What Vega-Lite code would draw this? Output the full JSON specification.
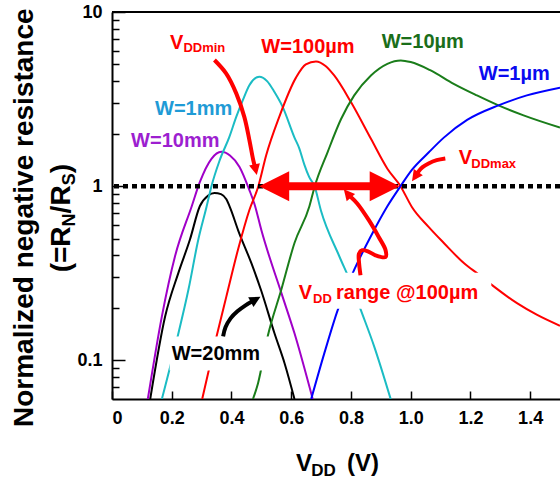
{
 "$schema": "https://vega.github.io/schema/vega-lite/v6.json",
 "width": 448, "height": 387,
 "autosize": {"type": "none"},
 "padding": {"left": 112, "top": 12, "right": 0, "bottom": 81},
 "background": "white",
 "config": {
  "view": {"stroke": null},
  "font": "Liberation Sans",
  "axis": {"grid": false, "domainColor": "black", "domainWidth": 2, "tickColor": "black", "tickWidth": 1.5, "labelFont": "Liberation Sans", "labelFontWeight": "bold", "labelFontSize": 18, "labelColor": "black", "title": null}
 },
 "resolve": {"axis": {"y": "independent"}},
 "layer": [
  {
   "data": {"values": [
    {"s":"W=20mm","x":0.128,"y":0.06},{"s":"W=20mm","x":0.178,"y":0.179},{"s":"W=20mm","x":0.222,"y":0.317},{"s":"W=20mm","x":0.261,"y":0.494},{"s":"W=20mm","x":0.294,"y":0.767},{"s":"W=20mm","x":0.322,"y":0.884},{"s":"W=20mm","x":0.343,"y":0.915},{"s":"W=20mm","x":0.365,"y":0.9},{"s":"W=20mm","x":0.383,"y":0.84},{"s":"W=20mm","x":0.397,"y":0.74},{"s":"W=20mm","x":0.422,"y":0.56},{"s":"W=20mm","x":0.467,"y":0.36},{"s":"W=20mm","x":0.5,"y":0.25},{"s":"W=20mm","x":0.544,"y":0.143},{"s":"W=20mm","x":0.578,"y":0.096},{"s":"W=20mm","x":0.611,"y":0.06},
    {"s":"W=10mm","x":0.12,"y":0.06},{"s":"W=10mm","x":0.167,"y":0.179},{"s":"W=10mm","x":0.211,"y":0.396},{"s":"W=10mm","x":0.267,"y":0.767},{"s":"W=10mm","x":0.294,"y":1.054},{"s":"W=10mm","x":0.333,"y":1.436},{"s":"W=10mm","x":0.366,"y":1.575},{"s":"W=10mm","x":0.395,"y":1.5},{"s":"W=10mm","x":0.427,"y":1.29},{"s":"W=10mm","x":0.46,"y":0.95},{"s":"W=10mm","x":0.478,"y":0.78},{"s":"W=10mm","x":0.5,"y":0.56},{"s":"W=10mm","x":0.567,"y":0.244},{"s":"W=10mm","x":0.611,"y":0.143},{"s":"W=10mm","x":0.672,"y":0.06},
    {"s":"W=1mm","x":0.167,"y":0.06},{"s":"W=1mm","x":0.217,"y":0.131},{"s":"W=1mm","x":0.256,"y":0.255},{"s":"W=1mm","x":0.289,"y":0.494},{"s":"W=1mm","x":0.317,"y":0.767},{"s":"W=1mm","x":0.333,"y":1.0},{"s":"W=1mm","x":0.36,"y":1.4},{"s":"W=1mm","x":0.393,"y":1.92},{"s":"W=1mm","x":0.416,"y":2.5},{"s":"W=1mm","x":0.438,"y":3.12},{"s":"W=1mm","x":0.46,"y":3.8},{"s":"W=1mm","x":0.493,"y":4.25},{"s":"W=1mm","x":0.52,"y":4.0},{"s":"W=1mm","x":0.544,"y":3.47},{"s":"W=1mm","x":0.571,"y":2.86},{"s":"W=1mm","x":0.611,"y":1.9},{"s":"W=1mm","x":0.627,"y":1.65},{"s":"W=1mm","x":0.644,"y":1.33},{"s":"W=1mm","x":0.66,"y":1.13},{"s":"W=1mm","x":0.678,"y":1.0},{"s":"W=1mm","x":0.7,"y":0.72},{"s":"W=1mm","x":0.761,"y":0.396},{"s":"W=1mm","x":0.8,"y":0.278},{"s":"W=1mm","x":0.833,"y":0.195},{"s":"W=1mm","x":0.878,"y":0.12},{"s":"W=1mm","x":0.933,"y":0.06},
    {"s":"W=100µm","x":0.302,"y":0.06},{"s":"W=100µm","x":0.35,"y":0.137},{"s":"W=100µm","x":0.383,"y":0.233},{"s":"W=100µm","x":0.422,"y":0.433},{"s":"W=100µm","x":0.46,"y":0.73},{"s":"W=100µm","x":0.49,"y":1.0},{"s":"W=100µm","x":0.516,"y":1.5},{"s":"W=100µm","x":0.56,"y":2.5},{"s":"W=100µm","x":0.616,"y":4.2},{"s":"W=100µm","x":0.649,"y":5.0},{"s":"W=100µm","x":0.683,"y":5.2},{"s":"W=100µm","x":0.715,"y":4.9},{"s":"W=100µm","x":0.744,"y":4.32},{"s":"W=100µm","x":0.8,"y":3.04},{"s":"W=100µm","x":0.867,"y":1.87},{"s":"W=100µm","x":0.922,"y":1.26},{"s":"W=100µm","x":0.966,"y":1.0},{"s":"W=100µm","x":1.004,"y":0.76},{"s":"W=100µm","x":1.06,"y":0.584},{"s":"W=100µm","x":1.111,"y":0.472},{"s":"W=100µm","x":1.178,"y":0.362},{"s":"W=100µm","x":1.228,"y":0.311},{"s":"W=100µm","x":1.278,"y":0.266},{"s":"W=100µm","x":1.356,"y":0.213},{"s":"W=100µm","x":1.422,"y":0.183},{"s":"W=100µm","x":1.5,"y":0.158},
    {"s":"W=10µm","x":0.472,"y":0.06},{"s":"W=10µm","x":0.489,"y":0.074},{"s":"W=10µm","x":0.522,"y":0.139},{"s":"W=10µm","x":0.567,"y":0.255},{"s":"W=10µm","x":0.611,"y":0.472},{"s":"W=10µm","x":0.661,"y":0.767},{"s":"W=10µm","x":0.678,"y":0.987},{"s":"W=10µm","x":0.722,"y":1.57},{"s":"W=10µm","x":0.767,"y":2.43},{"s":"W=10µm","x":0.811,"y":3.32},{"s":"W=10µm","x":0.867,"y":4.32},{"s":"W=10µm","x":0.922,"y":5.04},{"s":"W=10µm","x":0.967,"y":5.27},{"s":"W=10µm","x":1.0,"y":5.16},{"s":"W=10µm","x":1.067,"y":4.62},{"s":"W=10µm","x":1.144,"y":3.87},{"s":"W=10µm","x":1.222,"y":3.32},{"s":"W=10µm","x":1.294,"y":2.91},{"s":"W=10µm","x":1.378,"y":2.55},{"s":"W=10µm","x":1.5,"y":2.17},
    {"s":"W=1µm","x":0.667,"y":0.06},{"s":"W=1µm","x":0.711,"y":0.11},{"s":"W=1µm","x":0.756,"y":0.195},{"s":"W=1µm","x":0.806,"y":0.317},{"s":"W=1µm","x":0.869,"y":0.525},{"s":"W=1µm","x":0.922,"y":0.767},{"s":"W=1µm","x":0.966,"y":1.0},{"s":"W=1µm","x":1.004,"y":1.24},{"s":"W=1µm","x":1.06,"y":1.56},{"s":"W=1µm","x":1.111,"y":1.9},{"s":"W=1µm","x":1.189,"y":2.4},{"s":"W=1µm","x":1.294,"y":2.91},{"s":"W=1µm","x":1.389,"y":3.32},{"s":"W=1µm","x":1.5,"y":3.68}
   ]},
   "mark": {"type": "line", "strokeWidth": 2, "clip": true, "interpolate": "monotone"},
   "encoding": {
    "x": {"field": "x", "type": "quantitative", "title": null, "scale": {"domain": [0, 1.5], "nice": false, "zero": false},
          "axis": {"orient": "bottom", "values": [0, 0.2, 0.4, 0.6, 0.8, 1.0, 1.2, 1.4], "tickSize": -8, "labelPadding": 18, "labelExpr": "datum.value == 0 ? '0' : format(datum.value, '.1f')"}},
    "y": {"field": "y", "type": "quantitative", "title": null, "scale": {"type": "log", "domain": [0.06, 10], "nice": false},
          "axis": {"orient": "left", "values": [0.1, 1, 10], "tickSize": -13, "labelPadding": 23, "format": "~g"}},
    "color": {"field": "s", "type": "nominal", "legend": null,
              "scale": {"domain": ["W=20mm", "W=10mm", "W=1mm", "W=100µm", "W=10µm", "W=1µm"], "range": ["#000000", "#a000c8", "#1bbcc4", "#ff0000", "#1a7d1a", "#0000ff"]}}
   }
  },
  {
   "data": {"values": [{}]},
   "mark": {"type": "rule", "strokeWidth": 2, "color": "black"},
   "encoding": {"y": {"datum": 10, "type": "quantitative", "title": null,
     "axis": {"orient": "left", "values": [0.07, 0.08, 0.09, 0.2, 0.3, 0.4, 0.5, 0.6, 0.7, 0.8, 0.9, 2, 3, 4, 5, 6, 7, 8, 9], "tickSize": -7, "labels": false, "domain": false}}}
  },
  {
   "data": {"values": [{"x": 0.193, "x2": 0.533, "y": 0.137, "y2": 0.0875}, {"x": 0.617, "x2": 1.27, "y": 0.318, "y2": 0.198}]},
   "mark": {"type": "rect", "color": "white"},
   "encoding": {"x": {"field": "x", "type": "quantitative", "title": null}, "x2": {"field": "x2"}, "y": {"field": "y", "type": "quantitative", "title": null, "axis": null}, "y2": {"field": "y2"}}
  },
  {
   "data": {"values": [{}]},
   "mark": {"type": "rule", "strokeWidth": 4.5, "strokeDash": [5, 4], "color": "black"},
   "encoding": {"y": {"datum": 1, "type": "quantitative", "axis": null}}
  },
  {
   "data": {"values": [{"x": 0.543, "x2": 0.913, "y": 1}]},
   "mark": {"type": "rule", "strokeWidth": 8, "color": "#ff0000"},
   "encoding": {"x": {"field": "x", "type": "quantitative", "title": null}, "x2": {"field": "x2"}, "y": {"field": "y", "type": "quantitative", "title": null, "axis": null}}
  },
  {
   "data": {"values": [{"x": 0.543, "y": 1}]},
   "mark": {"type": "point", "shape": "M1,-1L-1,0L1,1Z", "size": 900, "filled": true, "opacity": 1, "color": "#ff0000"},
   "encoding": {"x": {"field": "x", "type": "quantitative", "title": null}, "y": {"field": "y", "type": "quantitative", "title": null, "axis": null}}
  },
  {
   "data": {"values": [{"x": 0.913, "y": 1}]},
   "mark": {"type": "point", "shape": "M-1,-1L1,0L-1,1Z", "size": 900, "filled": true, "opacity": 1, "color": "#ff0000"},
   "encoding": {"x": {"field": "x", "type": "quantitative", "title": null}, "y": {"field": "y", "type": "quantitative", "title": null, "axis": null}}
  },
  {
   "data": {"values": [
    {"a":"min","i":1,"x":0.343,"y":5.30},{"a":"min","i":2,"x":0.382,"y":4.44},{"a":"min","i":3,"x":0.416,"y":3.41},{"a":"min","i":4,"x":0.443,"y":2.50},{"a":"min","i":5,"x":0.46,"y":1.84},{"a":"min","i":6,"x":0.473,"y":1.41},{"a":"min","i":7,"x":0.48,"y":1.27},
    {"a":"max","i":1,"x":1.116,"y":1.443},{"a":"max","i":2,"x":1.087,"y":1.41},{"a":"max","i":3,"x":1.06,"y":1.35},{"a":"max","i":4,"x":1.04,"y":1.286},{"a":"max","i":5,"x":1.027,"y":1.22},{"a":"max","i":6,"x":1.017,"y":1.149},
    {"a":"rng","i":1,"x":0.832,"y":0.308},{"a":"rng","i":2,"x":0.827,"y":0.366},{"a":"rng","i":3,"x":0.827,"y":0.41},{"a":"rng","i":4,"x":0.838,"y":0.429},{"a":"rng","i":5,"x":0.86,"y":0.42},{"a":"rng","i":6,"x":0.882,"y":0.401},{"a":"rng","i":7,"x":0.916,"y":0.392},{"a":"rng","i":8,"x":0.916,"y":0.429},{"a":"rng","i":9,"x":0.893,"y":0.511},{"a":"rng","i":10,"x":0.86,"y":0.638},{"a":"rng","i":11,"x":0.821,"y":0.796},{"a":"rng","i":12,"x":0.797,"y":0.876}
   ]},
   "mark": {"type": "line", "strokeWidth": 4, "color": "#ff0000", "interpolate": "catmull-rom"},
   "encoding": {"x": {"field": "x", "type": "quantitative", "title": null}, "y": {"field": "y", "type": "quantitative", "title": null, "axis": null}, "detail": {"field": "a"}, "order": {"field": "i"}}
  },
  {
   "data": {"values": [{"i":1,"x":0.372,"y":0.1374},{"i":2,"x":0.38,"y":0.1547},{"i":3,"x":0.397,"y":0.1743},{"i":4,"x":0.42,"y":0.1912},{"i":5,"x":0.447,"y":0.207},{"i":6,"x":0.47,"y":0.2184}]},
   "mark": {"type": "line", "strokeWidth": 4, "color": "black", "interpolate": "catmull-rom"},
   "encoding": {"x": {"field": "x", "type": "quantitative", "title": null}, "y": {"field": "y", "type": "quantitative", "title": null, "axis": null}, "order": {"field": "i"}}
  },
  {
   "data": {"values": [{"x": 0.481, "y": 1.243}]},
   "mark": {"type": "point", "shape": "M0,-1L1,1L-1,1Z", "size": 121, "angle": 168, "filled": true, "opacity": 1, "color": "#ff0000"},
   "encoding": {"x": {"field": "x", "type": "quantitative", "title": null}, "y": {"field": "y", "type": "quantitative", "title": null, "axis": null}}
  },
  {
   "data": {"values": [{"x": 1.015, "y": 1.134}]},
   "mark": {"type": "point", "shape": "M0,-1L1,1L-1,1Z", "size": 121, "angle": 215, "filled": true, "opacity": 1, "color": "#ff0000"},
   "encoding": {"x": {"field": "x", "type": "quantitative", "title": null}, "y": {"field": "y", "type": "quantitative", "title": null, "axis": null}}
  },
  {
   "data": {"values": [{"x": 0.788, "y": 0.909}]},
   "mark": {"type": "point", "shape": "M0,-1L1,1L-1,1Z", "size": 121, "angle": 320, "filled": true, "opacity": 1, "color": "#ff0000"},
   "encoding": {"x": {"field": "x", "type": "quantitative", "title": null}, "y": {"field": "y", "type": "quantitative", "title": null, "axis": null}}
  },
  {
   "data": {"values": [{"x": 0.481, "y": 0.2236}]},
   "mark": {"type": "point", "shape": "M0,-1L1,1L-1,1Z", "size": 121, "angle": 61, "filled": true, "opacity": 1, "color": "black"},
   "encoding": {"x": {"field": "x", "type": "quantitative", "title": null}, "y": {"field": "y", "type": "quantitative", "title": null, "axis": null}}
  },
  {
   "data": {"values": [{"t": "W=100µm", "x": 0.5, "y": 5.81}, {"t": "V", "x": 0.194, "y": 6.15}, {"t": "V", "x": 1.161, "y": 1.338}, {"t": "V", "x": 0.625, "y": 0.225}, {"t": "range @100µm", "x": 0.75, "y": 0.225}]},
   "mark": {"type": "text", "align": "left", "baseline": "alphabetic", "font": "Liberation Sans", "fontWeight": "bold", "fontSize": 20, "color": "#ff0000"},
   "encoding": {"text": {"field": "t"}, "x": {"field": "x", "type": "quantitative", "title": null}, "y": {"field": "y", "type": "quantitative", "title": null, "axis": null}}
  },
  {
   "data": {"values": [{"t": "DDmin", "x": 0.239, "y": 5.89}, {"t": "DDmax", "x": 1.203, "y": 1.269}, {"t": "DD", "x": 0.673, "y": 0.213}]},
   "mark": {"type": "text", "align": "left", "baseline": "alphabetic", "font": "Liberation Sans", "fontWeight": "bold", "fontSize": 13, "color": "#ff0000"},
   "encoding": {"text": {"field": "t"}, "x": {"field": "x", "type": "quantitative", "title": null}, "y": {"field": "y", "type": "quantitative", "title": null, "axis": null}}
  },
  {
   "data": {"values": [{"t": "W=10µm", "x": 0.903, "y": 6.19}]},
   "mark": {"type": "text", "align": "left", "baseline": "alphabetic", "font": "Liberation Sans", "fontWeight": "bold", "fontSize": 20, "color": "#1a6e1a"},
   "encoding": {"text": {"field": "t"}, "x": {"field": "x", "type": "quantitative", "title": null}, "y": {"field": "y", "type": "quantitative", "title": null, "axis": null}}
  },
  {
   "data": {"values": [{"t": "W=1µm", "x": 1.228, "y": 4.05}]},
   "mark": {"type": "text", "align": "left", "baseline": "alphabetic", "font": "Liberation Sans", "fontWeight": "bold", "fontSize": 20, "color": "#0a0af0"},
   "encoding": {"text": {"field": "t"}, "x": {"field": "x", "type": "quantitative", "title": null}, "y": {"field": "y", "type": "quantitative", "title": null, "axis": null}}
  },
  {
   "data": {"values": [{"t": "W=1mm", "x": 0.144, "y": 2.55}]},
   "mark": {"type": "text", "align": "left", "baseline": "alphabetic", "font": "Liberation Sans", "fontWeight": "bold", "fontSize": 20, "color": "#1f9bd6"},
   "encoding": {"text": {"field": "t"}, "x": {"field": "x", "type": "quantitative", "title": null}, "y": {"field": "y", "type": "quantitative", "title": null, "axis": null}}
  },
  {
   "data": {"values": [{"t": "W=10mm", "x": 0.064, "y": 1.676}]},
   "mark": {"type": "text", "align": "left", "baseline": "alphabetic", "font": "Liberation Sans", "fontWeight": "bold", "fontSize": 20, "color": "#9d1fd0"},
   "encoding": {"text": {"field": "t"}, "x": {"field": "x", "type": "quantitative", "title": null}, "y": {"field": "y", "type": "quantitative", "title": null, "axis": null}}
  },
  {
   "data": {"values": [{"t": "W=20mm", "x": 0.2, "y": 0.1}]},
   "mark": {"type": "text", "align": "left", "baseline": "alphabetic", "font": "Liberation Sans", "fontWeight": "bold", "fontSize": 20, "color": "black"},
   "encoding": {"text": {"field": "t"}, "x": {"field": "x", "type": "quantitative", "title": null}, "y": {"field": "y", "type": "quantitative", "title": null, "axis": null}}
  },
  {
   "data": {"values": [{"t": "V", "x": 0.616, "y": 0.0233}, {"t": "(V)", "x": 0.787, "y": 0.0233}]},
   "mark": {"type": "text", "align": "left", "baseline": "alphabetic", "font": "Liberation Sans", "fontWeight": "bold", "fontSize": 24, "color": "black"},
   "encoding": {"text": {"field": "t"}, "x": {"field": "x", "type": "quantitative", "title": null}, "y": {"field": "y", "type": "quantitative", "title": null, "axis": null}}
  },
  {
   "data": {"values": [{"t": "DD", "x": 0.667, "y": 0.0218}]},
   "mark": {"type": "text", "align": "left", "baseline": "alphabetic", "font": "Liberation Sans", "fontWeight": "bold", "fontSize": 17, "color": "black"},
   "encoding": {"text": {"field": "t"}, "x": {"field": "x", "type": "quantitative", "title": null}, "y": {"field": "y", "type": "quantitative", "title": null, "axis": null}}
  },
  {
   "data": {"values": [{"t": "Normalized negative resistance", "x": -0.263, "y": 0.659}]},
   "mark": {"type": "text", "align": "center", "baseline": "alphabetic", "angle": 270, "font": "Liberation Sans", "fontWeight": "bold", "fontSize": 28, "color": "black"},
   "encoding": {"text": {"field": "t"}, "x": {"field": "x", "type": "quantitative", "title": null}, "y": {"field": "y", "type": "quantitative", "title": null, "axis": null}}
  },
  {
   "data": {"values": [{"t": "(=R", "x": -0.14, "y": 0.32}, {"t": "/R", "x": -0.14, "y": 0.698}, {"t": ")", "x": -0.14, "y": 1.185}]},
   "mark": {"type": "text", "align": "left", "baseline": "alphabetic", "angle": 270, "font": "Liberation Sans", "fontWeight": "bold", "fontSize": 28, "color": "black"},
   "encoding": {"text": {"field": "t"}, "x": {"field": "x", "type": "quantitative", "title": null}, "y": {"field": "y", "type": "quantitative", "title": null, "axis": null}}
  },
  {
   "data": {"values": [{"t": "N", "x": -0.123, "y": 0.587}, {"t": "S", "x": -0.123, "y": 1.011}]},
   "mark": {"type": "text", "align": "left", "baseline": "alphabetic", "angle": 270, "font": "Liberation Sans", "fontWeight": "bold", "fontSize": 18, "color": "black"},
   "encoding": {"text": {"field": "t"}, "x": {"field": "x", "type": "quantitative", "title": null}, "y": {"field": "y", "type": "quantitative", "title": null, "axis": null}}
  }
 ]
}
